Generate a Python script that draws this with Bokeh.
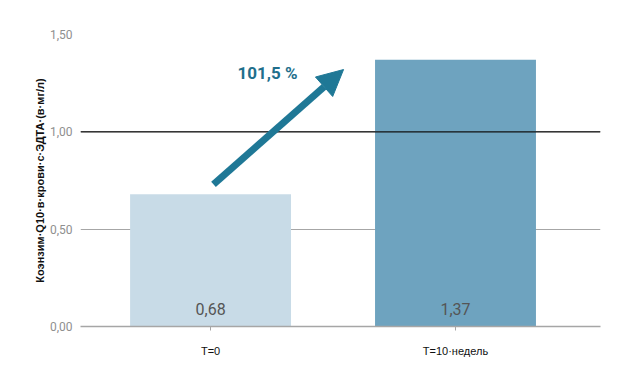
from bokeh.plotting import figure
from bokeh.models import Range1d, Span, Arrow, NormalHead, Label, FixedTicker, ColumnDataSource
from bokeh.embed import file_html
from bokeh.resources import INLINE

categories = ["T=0", "T=10·недель"]
values = [0.68, 1.37]
value_labels = ["0,68", "1,37"]
bar_colors = ["#c8dbe7", "#6ea3bf"]
y_ticks = [0.0, 0.5, 1.0, 1.5]
y_tick_labels = ["0,00", "0,50", "1,00", "1,50"]
growth_label = "101,5 %"
y_title = "Коэнзим·Q10·в·крови·с·ЭДТА·(в·мг/л)"

xs = list(range(len(categories)))
src = ColumnDataSource(dict(x=xs, top=values, color=bar_colors, lab=value_labels,
                            ly=[0.0 for _ in values]))

p = figure(width=624, height=380, output_backend="svg", toolbar_location=None,
           x_range=Range1d(-0.531, 1.592), y_range=Range1d(0, 1.5))
p.min_border_left = 80
p.min_border_right = 24
p.min_border_top = 34
p.min_border_bottom = 54
p.outline_line_color = None
p.background_fill_color = "white"
p.border_fill_color = "white"

p.vbar(x="x", top="top", width=0.657, fill_color="color", line_color=None, source=src)

p.text(x="x", y="ly", text="lab", source=src, text_align="center", text_baseline="bottom",
       y_offset=-12, text_color="#555555", text_font_size="16px", text_font={"value": "Roboto"})

p.xgrid.grid_line_color = None
p.ygrid.grid_line_color = "#a6a6a6"
p.ygrid.grid_line_width = 1
p.ygrid.ticker = FixedTicker(ticks=y_ticks)

p.add_layout(Span(location=1.0, dimension="width", line_color="#111111", line_width=1.3))

yax = p.yaxis[0]
yax.ticker = FixedTicker(ticks=y_ticks)
yax.major_label_overrides = {t: l for t, l in zip(y_ticks, y_tick_labels)}
yax.axis_line_color = None
yax.major_tick_line_color = None
yax.minor_tick_line_color = None
yax.major_tick_in = 0
yax.major_tick_out = 0
yax.major_label_standoff = 8
yax.major_label_text_color = "#8f8f8f"
yax.major_label_text_font = "Roboto"
yax.major_label_text_font_size = "12px"
yax.axis_label = y_title
yax.axis_label_text_font = "Liberation Sans"
yax.axis_label_text_font_style = "bold"
yax.axis_label_text_font_size = "11px"
yax.axis_label_text_color = "#111111"
yax.axis_label_standoff = 1

xax = p.xaxis[0]
xax.ticker = FixedTicker(ticks=xs)
xax.major_label_overrides = {x: c for x, c in zip(xs, categories)}
xax.axis_line_color = "#a6a6a6"
xax.axis_line_width = 1.5
xax.major_tick_line_color = "#a6a6a6"
xax.major_tick_in = 0
xax.major_tick_out = 4
xax.minor_tick_line_color = None
xax.major_label_standoff = 14
xax.major_label_text_color = "#111111"
xax.major_label_text_font = "Liberation Sans"
xax.major_label_text_font_size = "11px"

arrow_color = "#1f7896"
x0 = xs[0] + 0.012
y0 = values[0] + 0.05
x1 = xs[1] - 0.457
y1 = values[1] - 0.05
p.add_layout(Arrow(x_start=x0, y_start=y0, x_end=x1, y_end=y1, line_color=arrow_color,
                   line_width=7,
                   end=NormalHead(size=26, fill_color=arrow_color, line_color=arrow_color)))
p.add_layout(Label(x=x0 + 0.098, y=y1 - 0.02, text=growth_label, text_color="#1f6f8c",
                   text_font="Roboto", text_font_style="bold", text_font_size="17px",
                   text_baseline="middle"))

open("out.html", "w").write(file_html(p, INLINE))
